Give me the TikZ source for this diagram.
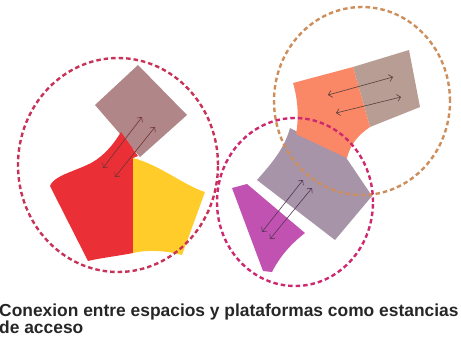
\documentclass[tikz,border=0pt]{standalone}
\usepackage{fontspec}
\usetikzlibrary{arrows.meta}
\newfontfamily\capfont{Liberation Sans}
\definecolor{ringL}{RGB}{200,50,88}
\definecolor{ringM}{RGB}{205,40,112}
\definecolor{ringR}{RGB}{205,142,92}
\definecolor{sqL}{RGB}{176,134,136}
\definecolor{redA}{RGB}{234,48,54}
\definecolor{yelA}{RGB}{255,204,42}
\definecolor{oraA}{RGB}{250,136,102}
\definecolor{greyA}{RGB}{184,157,149}
\definecolor{mauA}{RGB}{168,148,168}
\definecolor{magA}{RGB}{194,82,178}
\definecolor{arrL}{RGB}{112,52,52}
\definecolor{arrR}{RGB}{88,62,60}
\definecolor{arrM}{RGB}{82,52,82}
\definecolor{capgray}{RGB}{38,38,38}
\tikzset{
  ring/.style={line width=2.4pt,dash pattern=on 4.5pt off 3pt},
  link/.style={{Straight Barb[length=3.5pt,width=7pt]}-{Straight Barb[length=3.5pt,width=7pt]},line width=0.6pt},
  caption/.style={inner sep=0pt,text=capgray,font=\capfont\bfseries\fontsize{17.4}{17.5}\selectfont}
}
\begin{document}
\begin{tikzpicture}[x=1pt,y=-1pt]
  \useasboundingbox (0,0) rectangle (461,341);
  % 左: 入口の四角と二つの空間
  \fill[sqL] (138,65) -- (187,115) -- (140,157) -- (95,105) -- cycle;
  \fill[redA] (121,132) -- (138,156) -- (133,158) -- (133,253)
    .. controls (118,256) and (100,258) .. (88,261) -- (50,186)
    .. controls (55,173) and (85,170) .. (100,157)
    .. controls (110,149) and (116,140) .. cycle;
  \fill[yelA] (133,158) .. controls (160,165) and (185,186) .. (205,192)
    -- (182,255) .. controls (165,250) and (145,250) .. (133,253) -- cycle;
  % 右上: 二つの部屋
  \fill[greyA] (353,67) -- (409,50) -- (420,107) -- (370,127) -- cycle;
  % 中央: 台と斜めの部屋
  \fill[mauA] (257,180) .. controls (270,165) and (284,150) .. (290,128)
    -- (345,156) -- (372,196) -- (335,240) -- cycle;
  \fill[oraA] (293,83) -- (353,67) -- (370,127)
    .. controls (358,135) and (350,145) .. (347,158) -- (296,134)
    .. controls (299,118) and (298,100) .. cycle;
  \fill[magA] (232,188) -- (247,184) -- (305,233)
    .. controls (292,243) and (280,256) .. (272,272) -- (263,271) -- cycle;
  % 矢印
  \foreach \n/\c/\ax/\ay/\bx/\by in {L1/arrL/103/168/142/117, L2/arrL/115/177/155/127,
      R1/arrR/328/95/393/77, R2/arrR/336/113/401/97,
      M1/arrM/262/232/303/180, M2/arrM/270/239/312/188}{
    \coordinate (\n s) at (\ax,\ay);
    \coordinate (\n e) at (\bx,\by);
    \draw[link,\c] (\n s) -- (\n e);
  }
  % 破線の円
  \foreach \c/\x/\y/\rx/\ry in {ringL/118/165/100/107, ringR/362/101/88/94, ringM/295/202/78/84}{
    \coordinate (C\c) at (\x,\y);
    \draw[ring,\c] (C\c) ellipse ({\rx pt} and {\ry pt});
  }
  \node[caption,anchor=base west] (cap1) at (-1,316) {Conexion entre espacios y plataformas como estancias};
  \node[caption,anchor=base west] (cap2) at ([yshift=-17pt]cap1.base west) {de acceso};
\end{tikzpicture}
\end{document}
